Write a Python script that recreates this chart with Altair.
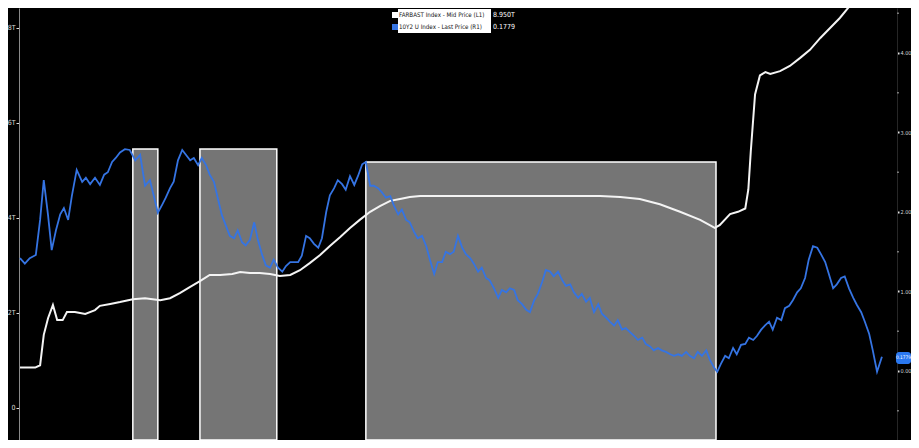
import altair as alt
import pandas as pd

# ---------------- data ----------------
white_t = [2008.30, 2008.55, 2008.63, 2008.69, 2008.76, 2008.84, 2008.91, 2009.00, 2009.07, 2009.20,
           2009.37, 2009.53, 2009.61, 2009.78, 2009.94, 2010.15, 2010.35, 2010.60, 2010.76, 2010.92,
           2011.09, 2011.25, 2011.41, 2011.58, 2011.78, 2011.91, 2012.07, 2012.23, 2012.40, 2012.56,
           2012.73, 2012.89, 2013.05, 2013.22, 2013.38, 2013.55, 2013.71, 2013.87, 2014.04, 2014.20,
           2014.37, 2014.53, 2014.69, 2014.86, 2015.51, 2016.17, 2016.82, 2017.48, 2017.81, 2018.14,
           2018.46, 2018.79, 2019.12, 2019.45, 2019.69, 2019.77, 2019.94, 2020.07, 2020.19, 2020.24,
           2020.28, 2020.35, 2020.43, 2020.52, 2020.60, 2020.76, 2020.92, 2021.09, 2021.25, 2021.42,
           2021.58, 2021.74, 2021.90, 2022.07, 2022.32, 2022.43]
white_v = [0.85, 0.85, 0.90, 1.54, 1.89, 2.17, 1.85, 1.85, 2.02, 2.02,
           1.98, 2.06, 2.15, 2.19, 2.23, 2.29, 2.31, 2.27, 2.31, 2.42,
           2.55, 2.67, 2.80, 2.80, 2.82, 2.86, 2.84, 2.84, 2.82, 2.78,
           2.80, 2.90, 3.05, 3.22, 3.41, 3.60, 3.79, 3.96, 4.13, 4.25,
           4.36, 4.40, 4.44, 4.46, 4.46, 4.46, 4.46, 4.46, 4.46, 4.44,
           4.40, 4.29, 4.13, 3.96, 3.79, 3.85, 4.08, 4.13, 4.20, 4.60,
           5.40, 6.60, 7.00, 7.07, 7.03, 7.09, 7.20, 7.37, 7.54, 7.79,
           8.00, 8.21, 8.46, 8.70, 8.90, 8.95]

blue_t = [2008.30, 2008.38, 2008.46, 2008.56, 2008.63, 2008.69, 2008.76, 2008.82, 2008.89, 2008.96,
          2009.02, 2009.09, 2009.15, 2009.23, 2009.32, 2009.38, 2009.45, 2009.53, 2009.61, 2009.68,
          2009.74, 2009.81, 2009.87, 2009.94, 2010.02, 2010.10, 2010.19, 2010.27, 2010.35, 2010.43,
          2010.51, 2010.56, 2010.63, 2010.69, 2010.76, 2010.82, 2010.89, 2010.96, 2011.02, 2011.09,
          2011.15, 2011.22, 2011.28, 2011.35, 2011.41, 2011.48, 2011.55, 2011.61, 2011.68, 2011.74,
          2011.81, 2011.87, 2011.94, 2012.00, 2012.07, 2012.14, 2012.20, 2012.27, 2012.33, 2012.40,
          2012.46, 2012.53, 2012.60, 2012.66, 2012.73, 2012.79, 2012.86, 2012.92, 2012.99, 2013.05,
          2013.12, 2013.19, 2013.25, 2013.32, 2013.38, 2013.45, 2013.51, 2013.58, 2013.64, 2013.71,
          2013.78, 2013.84, 2013.91, 2013.97, 2014.04, 2014.10, 2014.17, 2014.23, 2014.30, 2014.37,
          2014.43, 2014.50, 2014.56, 2014.63, 2014.69, 2014.76, 2014.82, 2014.89, 2014.96, 2015.02,
          2015.09, 2015.15, 2015.22, 2015.28, 2015.35, 2015.41, 2015.48, 2015.55, 2015.61, 2015.68,
          2015.74, 2015.81, 2015.87, 2015.94, 2016.00, 2016.07, 2016.14, 2016.20, 2016.27, 2016.33,
          2016.40, 2016.46, 2016.53, 2016.60, 2016.66, 2016.73, 2016.79, 2016.86, 2016.92, 2016.99,
          2017.05, 2017.12, 2017.19, 2017.25, 2017.32, 2017.38, 2017.45, 2017.51, 2017.58, 2017.64,
          2017.71, 2017.78, 2017.84, 2017.91, 2017.97, 2018.04, 2018.10, 2018.17, 2018.23, 2018.30,
          2018.37, 2018.43, 2018.50, 2018.56, 2018.63, 2018.69, 2018.76, 2018.82, 2018.89, 2018.96,
          2019.02, 2019.09, 2019.15, 2019.22, 2019.28, 2019.35, 2019.41, 2019.48, 2019.55, 2019.61,
          2019.68, 2019.73, 2019.79, 2019.86, 2019.92, 2019.99, 2020.05, 2020.12, 2020.19, 2020.25,
          2020.32, 2020.38, 2020.45, 2020.51, 2020.58, 2020.64, 2020.71, 2020.78, 2020.84, 2020.91,
          2020.97, 2021.04, 2021.10, 2021.17, 2021.23, 2021.30, 2021.37, 2021.43, 2021.50, 2021.56,
          2021.63, 2021.69, 2021.76, 2021.82, 2021.89, 2021.96, 2022.02, 2022.09, 2022.15, 2022.22,
          2022.28, 2022.35, 2022.43]
blue_v = [1.42, 1.35, 1.42, 1.46, 1.90, 2.40, 1.96, 1.52, 1.77, 1.97,
          2.05, 1.90, 2.20, 2.53, 2.38, 2.43, 2.35, 2.43, 2.34, 2.47,
          2.50, 2.63, 2.68, 2.75, 2.79, 2.78, 2.65, 2.72, 2.33, 2.40,
          2.15, 1.99, 2.09, 2.18, 2.30, 2.38, 2.65, 2.78, 2.72, 2.65,
          2.68, 2.59, 2.68, 2.59, 2.47, 2.38, 2.15, 1.96, 1.82, 1.70,
          1.67, 1.77, 1.62, 1.58, 1.65, 1.87, 1.65, 1.46, 1.33, 1.30,
          1.40, 1.30, 1.25, 1.32, 1.37, 1.37, 1.37, 1.45, 1.70, 1.67,
          1.60, 1.55, 1.67, 2.00, 2.21, 2.30, 2.40, 2.35, 2.28, 2.45,
          2.34, 2.45, 2.60, 2.63, 2.33, 2.33, 2.30, 2.25, 2.18, 2.20,
          2.08, 1.97, 2.03, 1.90, 1.87, 1.75, 1.67, 1.70, 1.57, 1.40,
          1.22, 1.37, 1.37, 1.50, 1.47, 1.50, 1.70, 1.55, 1.47, 1.42,
          1.35, 1.25, 1.30, 1.17, 1.14, 1.04, 0.92, 1.02, 0.99, 1.04,
          1.02, 0.89, 0.84, 0.77, 0.74, 0.89, 0.97, 1.12, 1.27, 1.25,
          1.19, 1.25, 1.14, 1.07, 1.09, 0.99, 0.92, 0.97, 0.87, 0.92,
          0.74, 0.84, 0.72, 0.67, 0.62, 0.57, 0.64, 0.52, 0.54, 0.49,
          0.44, 0.39, 0.42, 0.34, 0.31, 0.26, 0.29, 0.26, 0.24, 0.21,
          0.19, 0.21, 0.19, 0.24, 0.19, 0.16, 0.24, 0.19, 0.26, 0.14,
          0.04, -0.01, 0.09, 0.19, 0.16, 0.29, 0.21, 0.33, 0.34, 0.42,
          0.39, 0.44, 0.52, 0.57, 0.62, 0.52, 0.67, 0.64, 0.79, 0.82,
          0.89, 0.99, 1.04, 1.17, 1.40, 1.57, 1.55, 1.47, 1.37, 1.22,
          1.04, 1.09, 1.17, 1.19, 1.04, 0.92, 0.83, 0.74, 0.62, 0.47,
          0.26, -0.01, 0.18]

shade_start = [2010.15, 2011.25, 2013.97]
shade_end = [2010.56, 2012.51, 2019.71]
shade_top = [5.45, 5.45, 5.18]

left_ticks = [0, 2, 4, 6, 8]
right_ticks = [0, 1, 2, 3, 4]
right_minor = [-0.5, 0.5, 1.5, 2.5, 3.5, 4.5]

legend_labels = ["FARBAST Index - Mid Price (L1)", "10Y2 U Index - Last Price (R1)"]
legend_values = ["8.950T", "0.1779"]
legend_colors = ["#ffffff", "#3574e3"]
last_label = "0.1779"

# ---------------- chart ----------------
W, H = 878, 432
FONT = "Liberation Sans Narrow, DejaVu Sans Condensed, Arial, sans-serif"
x_scale = alt.Scale(domain=[2008.284, 2022.677], nice=False, zero=False)
left_scale = alt.Scale(domain=[-0.674, 8.42], nice=False, zero=False)
right_scale = alt.Scale(domain=[-0.868, 4.566], nice=False, zero=False)

white_df = pd.DataFrame({"t": white_t, "v": white_v})
blue_df = pd.DataFrame({"t": blue_t, "v": blue_v})
shade_df = pd.DataFrame({"s": shade_start, "e": shade_end, "top": shade_top})
minor_df = pd.DataFrame({"m": right_minor})

left_axis = alt.Axis(values=left_ticks, title=None, grid=False,
                     labelExpr="datum.value == 0 ? '0' : datum.value + 'T'",
                     labelColor="#d8d8d8", labelFontSize=7, labelFont=FONT,
                     tickSize=3, tickColor="#e0e0e0", domainColor="#8a8a8a",
                     labelPadding=1)
right_axis = alt.Axis(values=right_ticks, title=None, grid=False, format=".2f",
                      orient="right",
                      labelColor="#d8d8d8", labelFontSize=5.5, labelFont=FONT,
                      tickSize=2, tickWidth=2, tickColor="#e0e0e0",
                      domainColor="#262626", labelPadding=1)

shade = alt.Chart(shade_df).mark_rect(color="#757575", stroke="#ffffff", strokeWidth=1.5).encode(
    x=alt.X("s:Q", scale=x_scale, axis=None),
    x2="e:Q",
    y=alt.Y("top:Q", scale=left_scale, axis=left_axis),
    y2=alt.value(H),
)
white_line = alt.Chart(white_df).mark_line(color="#f4f4f4", strokeWidth=2, clip=True).encode(
    x=alt.X("t:Q", scale=x_scale, axis=None),
    y=alt.Y("v:Q", scale=left_scale, axis=left_axis),
)
left_layer = alt.layer(shade, white_line)

blue_line = alt.Chart(blue_df).mark_line(color="#3574e3", strokeWidth=1.8, clip=True).encode(
    x=alt.X("t:Q", scale=x_scale, axis=None),
    y=alt.Y("v:Q", scale=right_scale, axis=right_axis),
)
minor_ticks = alt.Chart(minor_df).mark_point(shape="square", filled=True, size=3, color="#bbbbbb").encode(
    x=alt.value(W + 1),
    y=alt.Y("m:Q", scale=right_scale, axis=right_axis),
)
right_layer = alt.layer(blue_line, minor_ticks)

layers = [left_layer, right_layer]

# legend (manual, top centre)
for i, yc in enumerate([7, 19]):
    ldf = pd.DataFrame({"label": [legend_labels[i]], "val": [legend_values[i]]})
    base = alt.Chart(ldf)
    layers.append(base.mark_rect(color=legend_colors[i]).encode(
        x=alt.value(373), x2=alt.value(379), y=alt.value(yc - 3), y2=alt.value(yc + 3)))
    layers.append(base.mark_rect(color="#ffffff").encode(
        x=alt.value(379), x2=alt.value(472), y=alt.value(yc - 6), y2=alt.value(yc + 6)))
    layers.append(base.mark_text(align="left", baseline="middle", color="#111111",
                                 fontSize=6.2, font=FONT).encode(
        x=alt.value(380), y=alt.value(yc), text="label:N"))
    layers.append(base.mark_text(align="left", baseline="middle", color="#ffffff",
                                 fontSize=7, font=FONT).encode(
        x=alt.value(474), y=alt.value(yc), text="val:N"))

# last-value badge on right axis
bdf = pd.DataFrame({"lab": [last_label]})
layers.append(alt.Chart(bdf).mark_rect(color="#2a78f0", cornerRadius=3).encode(
    x=alt.value(877), x2=alt.value(892), y=alt.value(344), y2=alt.value(356)))
layers.append(alt.Chart(bdf).mark_text(align="center", baseline="middle", color="#ffffff",
                                       fontSize=4.8, font=FONT).encode(
    x=alt.value(884.5), y=alt.value(350), text="lab:N"))

chart = alt.layer(*layers).resolve_scale(y="independent").properties(
    width=W, height=H,
    autosize=alt.AutoSizeParams(type="none"),
    padding={"left": 11, "top": 0, "right": 14, "bottom": 0},
    background="#000000",
).configure_view(stroke=None)

chart.save("out.html", embed_options={"renderer": "svg", "actions": False})
